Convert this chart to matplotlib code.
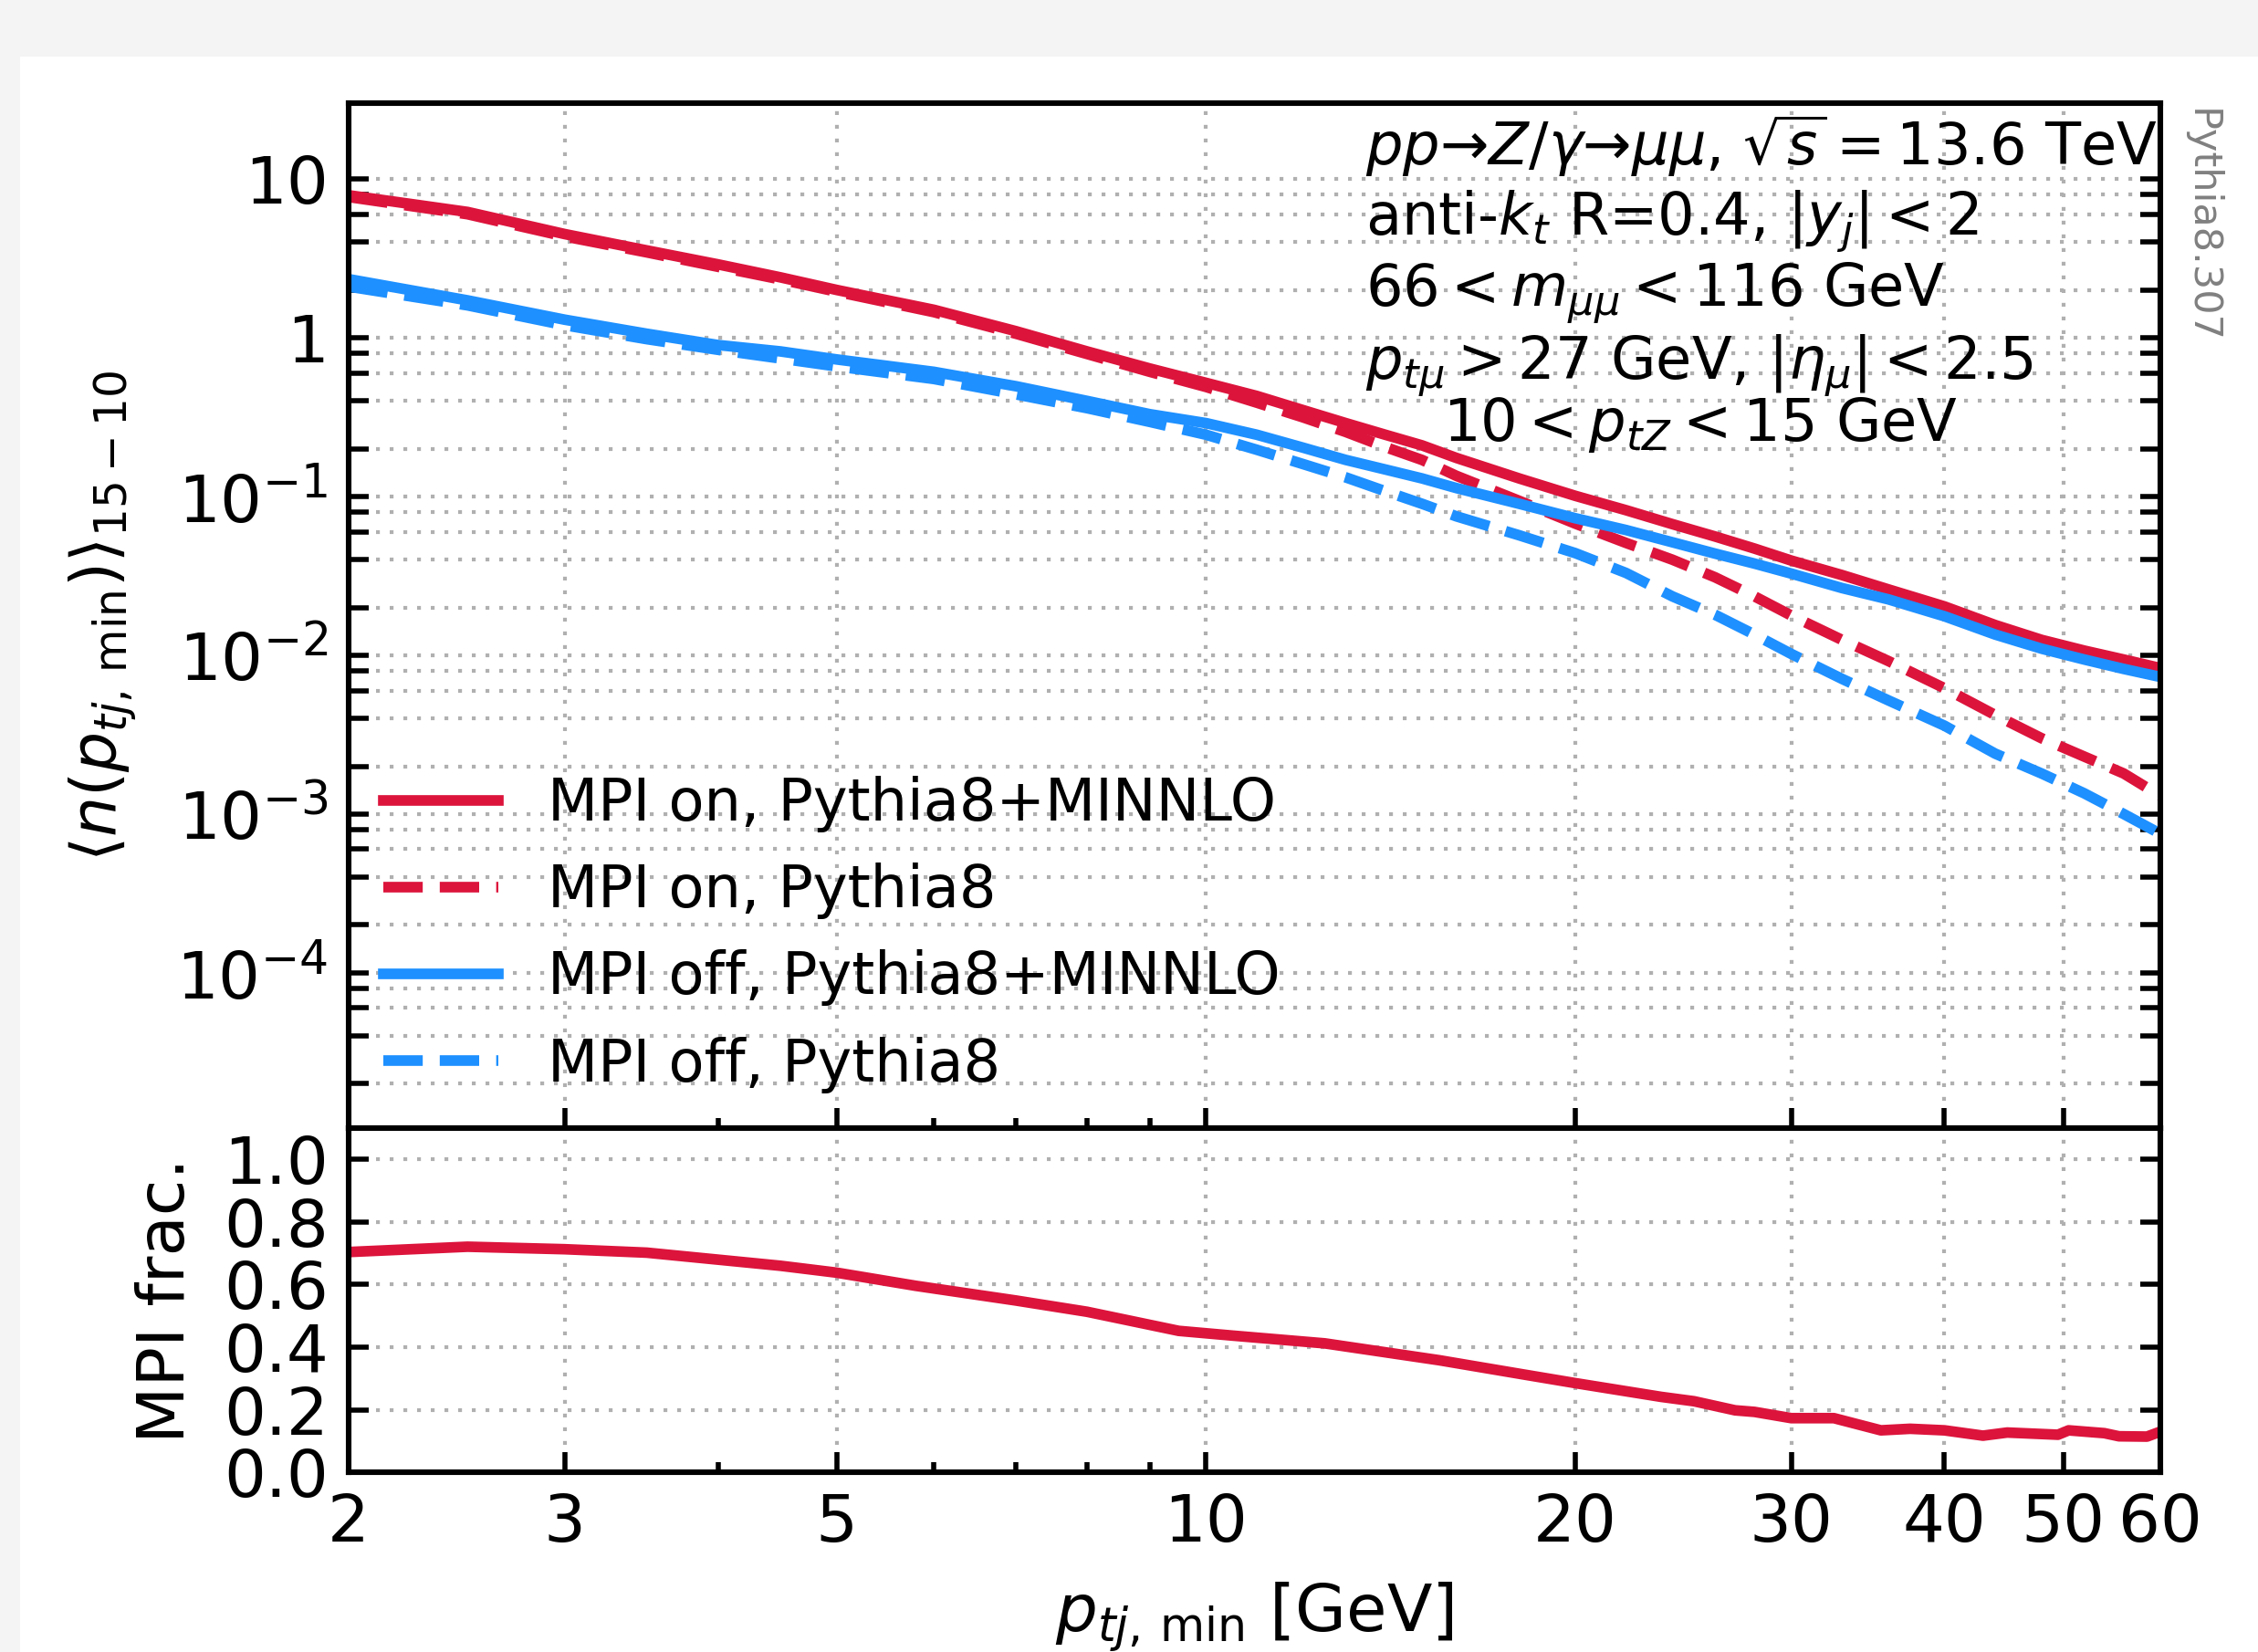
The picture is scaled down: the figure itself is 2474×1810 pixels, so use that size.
import matplotlib.pyplot as plt
import matplotlib.ticker as ticker
from matplotlib.patches import Rectangle

# pt_j,min grid [GeV]
pt_min = [2, 2.5, 3, 3.5, 4, 4.5, 5, 6, 7, 8, 9, 10, 11, 12, 13, 14, 15, 16,
          18, 20, 22, 24, 26, 28, 30, 33, 36, 40, 44, 48, 52, 56, 60]

# <n(pt_j,min)> for each setup
mpi_on_minnlo = [7.9, 6.2, 4.5, 3.55, 2.9, 2.4, 2.0, 1.5, 1.1, 0.82, 0.64, 0.52,
                 0.43, 0.35, 0.29, 0.245, 0.21, 0.175, 0.13, 0.101, 0.082, 0.067,
                 0.056, 0.047, 0.0395, 0.032, 0.026, 0.0203, 0.0155, 0.0125,
                 0.0107, 0.0094, 0.0083]
mpi_on_py8 = [7.7, 6.0, 4.35, 3.45, 2.8, 2.33, 1.95, 1.45, 1.06, 0.79, 0.61, 0.49,
              0.39, 0.315, 0.255, 0.205, 0.17, 0.135, 0.094, 0.0675, 0.051, 0.04,
              0.031, 0.0235, 0.0178, 0.0125, 0.0092, 0.0062, 0.0042, 0.0030,
              0.0023, 0.0018, 0.0013]
mpi_off_minnlo = [2.34, 1.72, 1.3, 1.06, 0.9, 0.82, 0.73, 0.61, 0.495, 0.40, 0.33,
                  0.29, 0.245, 0.203, 0.17, 0.148, 0.13, 0.113, 0.09, 0.073,
                  0.0615, 0.0515, 0.0437, 0.0378, 0.0327, 0.0265, 0.0225, 0.0176,
                  0.0135, 0.011, 0.0094, 0.0082, 0.0073]
mpi_off_py8 = [2.1, 1.6, 1.2, 0.98, 0.84, 0.74, 0.66, 0.55, 0.44, 0.36, 0.295,
               0.245, 0.197, 0.16, 0.132, 0.108, 0.09, 0.075, 0.057, 0.044, 0.033,
               0.0235, 0.018, 0.0135, 0.0102, 0.0071, 0.0052, 0.0036, 0.0024,
               0.0018, 0.00135, 0.001, 0.00075]

# MPI fraction (Pythia8+MINNLO)
frac_pt = [2, 2.5, 3, 3.5, 4.5, 5, 5.8, 7, 8, 9.5, 10.5, 12.5, 15.5, 18, 20, 23.5,
           25, 27, 28, 30, 32.5, 35.5, 37.5, 40, 43, 45, 49.5, 50.5, 54, 55.5,
           58.5, 60]
mpi_frac = [0.704, 0.721, 0.713, 0.702, 0.66, 0.638, 0.596, 0.549, 0.513, 0.452,
            0.437, 0.412, 0.358, 0.315, 0.285, 0.241, 0.227, 0.198, 0.193, 0.173,
            0.173, 0.134, 0.139, 0.134, 0.117, 0.127, 0.120, 0.134, 0.125, 0.115,
            0.114, 0.130]

labels = ['MPI on, Pythia8+MINNLO', 'MPI on, Pythia8',
          'MPI off, Pythia8+MINNLO', 'MPI off, Pythia8']

x_ticks = [2, 3, 5, 10, 20, 30, 40, 50, 60]
x_minor = [4, 6, 7, 8, 9]
y_ticks = [1e-4, 1e-3, 1e-2, 1e-1, 1, 10]
y_ticklabels = [r'$\mathdefault{10^{-4}}$', r'$\mathdefault{10^{-3}}$',
                r'$\mathdefault{10^{-2}}$', r'$\mathdefault{10^{-1}}$', '1', '10']
y_minor = [m * 10.0 ** e for e in range(-5, 1) for m in (2, 4, 6, 8)]

red = 'crimson'
blue = 'dodgerblue'
lw = 4.2
grid_kw = dict(color='#b0b0b0', linestyle=(0, (1, 2.6)), linewidth=1.5)

plt.rcParams['font.family'] = 'DejaVu Sans'
plt.rcParams['mathtext.fontset'] = 'dejavusans'

fig = plt.figure(figsize=(12.37, 9.05), dpi=200)
fig.patch.set_facecolor('#f4f4f4')
# white page area, drawn underneath the axes
fig.patches.append(Rectangle((22 / 2474, 0), 1, 1 - 62 / 1810, transform=fig.transFigure,
                             facecolor='white', edgecolor='none', zorder=-1))

ax = fig.add_axes([0.1544, 0.3171, 0.8024, 0.6204])
rax = fig.add_axes([0.1544, 0.1088, 0.8024, 0.2083], sharex=ax)

ax.plot(pt_min, mpi_on_minnlo, color=red, lw=lw, label=labels[0])
ax.plot(pt_min, mpi_on_py8, color=red, lw=lw, ls='--', label=labels[1])
ax.plot(pt_min, mpi_off_minnlo, color=blue, lw=lw, label=labels[2])
ax.plot(pt_min, mpi_off_py8, color=blue, lw=lw, ls='--', label=labels[3])

rax.plot(frac_pt, mpi_frac, color=red, lw=lw)

ax.set_xscale('log')
ax.set_yscale('log')
ax.set_xlim(2, 60)
ax.set_ylim(1.05e-5, 30)
rax.set_ylim(0, 1.1)

for a in (ax, rax):
    a.xaxis.set_major_locator(ticker.FixedLocator(x_ticks))
    a.xaxis.set_minor_locator(ticker.FixedLocator(x_minor))
    a.xaxis.set_major_formatter(ticker.FixedFormatter([str(t) for t in x_ticks]))
    a.xaxis.set_minor_formatter(ticker.NullFormatter())
    for s in a.spines.values():
        s.set_linewidth(2.2)
    a.grid(True, which='major', axis='x', **grid_kw)
    a.set_axisbelow(True)

ax.yaxis.set_major_locator(ticker.FixedLocator(y_ticks))
ax.yaxis.set_major_formatter(ticker.FixedFormatter(y_ticklabels))
ax.yaxis.set_minor_locator(ticker.FixedLocator(y_minor))
ax.yaxis.set_minor_formatter(ticker.NullFormatter())
ax.grid(True, which='both', axis='y', **grid_kw)

rax.set_yticks([0.0, 0.2, 0.4, 0.6, 0.8, 1.0])
rax.set_yticklabels(['0.0', '0.2', '0.4', '0.6', '0.8', '1.0'])
rax.grid(True, which='major', axis='y', **grid_kw)

# inward ticks; top axis has none
ax.tick_params(which='both', direction='in', top=False, right=True, width=2,
               labelsize=26, pad=8)
ax.tick_params(axis='y', which='both', length=8)
ax.tick_params(axis='x', which='major', length=8)
ax.tick_params(axis='x', which='minor', length=4)
ax.tick_params(axis='x', labelbottom=False)
rax.tick_params(which='both', direction='in', top=False, right=True, width=2,
                labelsize=26, pad=8)
rax.tick_params(axis='y', which='both', length=8)
rax.tick_params(axis='x', which='major', length=8)
rax.tick_params(axis='x', which='minor', length=4)

ax.set_ylabel(r'$\langle n(p_{tj,\,\mathrm{min}})\rangle_{15-10}$', fontsize=25)
rax.set_ylabel('MPI frac.', fontsize=26)
rax.set_xlabel(r'$p_{tj,\,\mathrm{min}}$ [GeV]', fontsize=26, labelpad=10)
ax.yaxis.set_label_coords(-0.116, 0.5)
rax.yaxis.set_label_coords(-0.083, 0.5)

ax.legend(loc='lower left', frameon=False, fontsize=23, handlelength=1.97,
          handletextpad=0.85, labelspacing=0.52, borderaxespad=0.2,
          bbox_to_anchor=(0.0, 0.0))

# selection cuts
cuts = [r'$pp$→$Z/\gamma$→$\mu\mu$, $\sqrt{s}=13.6$ TeV',
        r'anti-$k_t$ R=0.4, $|y_j|<2$',
        r'$66<m_{\mu\mu}<116$ GeV',
        r'$p_{t\mu}>27$ GeV, $|\eta_\mu|<2.5$']
cut_y = [0.940, 0.871, 0.802, 0.731]
for txt, yy in zip(cuts, cut_y):
    ax.text(0.561, yy, txt, transform=ax.transAxes, fontsize=23, va='baseline', ha='left')
ax.text(0.604, 0.671, r'$10<p_{tZ}<15$ GeV', transform=ax.transAxes, fontsize=23,
        va='baseline', ha='left')

ax.text(1.012, 0.995, 'Pythia8.307', transform=ax.transAxes, rotation=-90,
        fontsize=15.5, color='grey', ha='left', va='top')

fig.savefig('out.png', dpi=200, facecolor=fig.get_facecolor())
